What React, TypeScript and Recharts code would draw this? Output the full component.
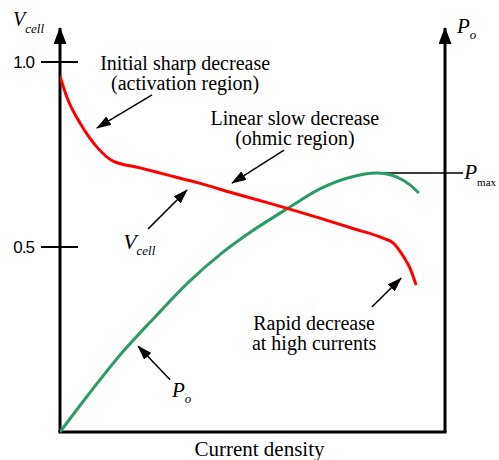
import { Label, Line, LineChart, ReferenceDot, ReferenceLine, XAxis, YAxis } from "recharts";

// polarisation curve (x = current density, normalised to the x-axis length)
const vCellX = [0, 0.018, 0.052, 0.096, 0.138, 0.208, 0.278, 0.364, 0.449, 0.545, 0.675, 0.761, 0.839, 0.865, 0.891, 0.909, 0.925];
const vCellY = [0.962, 0.905, 0.835, 0.77, 0.732, 0.714, 0.695, 0.672, 0.646, 0.618, 0.578, 0.55, 0.524, 0.511, 0.476, 0.443, 0.397];

// power curve
const powerX = [0, 0.073, 0.161, 0.247, 0.332, 0.421, 0.499, 0.597, 0.675, 0.745, 0.823, 0.875, 0.909, 0.932];
const powerY = [0, 0.1, 0.214, 0.311, 0.403, 0.484, 0.543, 0.608, 0.657, 0.686, 0.7, 0.689, 0.668, 0.646];

const vTicks = [0.5, 1.0];
const yMax = 1.092;
const pMax = { x: 0.823, y: 0.7, end: 1.047 };

// annotation arrows: tail -> head, in data units
const arrows = [
  { from: [0.239, 0.911], to: [0.096, 0.822] },
  { from: [0.582, 0.762], to: [0.447, 0.673] },
  { from: [0.229, 0.549], to: [0.33, 0.654] },
  { from: [0.286, 0.141], to: [0.203, 0.232] },
  { from: [0.81, 0.338], to: [0.886, 0.416] },
];

const notes = [
  { x: 0.325, y: 0.978, lines: ["Initial sharp decrease", "(activation region)"] },
  { x: 0.61, y: 0.83, lines: ["Linear slow decrease", "(ohmic region)"] },
  { x: 0.66, y: 0.276, lines: ["Rapid decrease", "at high currents"] },
];

// symbol labels: main letter + subscript
const symbols = [
  { x: -0.122, y: 1.097, main: "V", sub: "cell", size: 20, subSize: 13, dy: 7, italicSub: true },
  { x: 0.164, y: 0.495, main: "V", sub: "cell", size: 22, subSize: 13, dy: 6, italicSub: true },
  { x: 0.291, y: 0.095, main: "P", sub: "o", size: 21, subSize: 13, dy: 6, italicSub: true },
  { x: 1.031, y: 1.078, main: "P", sub: "o", size: 21, subSize: 13, dy: 6, italicSub: true },
  { x: 1.05, y: 0.684, main: "P", sub: "max", size: 21, subSize: 11, dy: 7, italicSub: false },
];

const vData = vCellX.map((x, i) => ({ x, v: vCellY[i] }));
const pData = powerX.map((x, i) => ({ x, p: powerY[i] }));

const serif = "'Liberation Serif', 'Times New Roman', serif";
const red = "#ff0000";
const green = "#2e9a66";

function VTick({ x, y, payload }: any) {
  return (
    <g>
      <line x1={x - 19} x2={x + 18} y1={y} y2={y} stroke="#000" strokeWidth={2} />
      <text x={x - 26} y={y + 6} textAnchor="end" style={{ fontFamily: "'Liberation Sans', Arial, sans-serif", fontSize: 17, letterSpacing: -1 }} fill="#000">
        {payload.value.toFixed(1)}
      </text>
    </g>
  );
}

const arrowLine = (marker: string, width: number) => (p: any) => (
  <line x1={p.x1} y1={p.y1} x2={p.x2} y2={p.y2} stroke="#000" strokeWidth={width} markerEnd={`url(#${marker})`} />
);

export default function App() {
  return (
    <div style={{ position: "absolute", left: 0, top: 0, background: "#fff" }}>
      <LineChart width={499} height={460} margin={{ top: 28, right: 54, bottom: 0, left: 0 }}>
        <defs>
          <marker id="axisHead" viewBox="0 0 17 13" refX={16} refY={6.5} markerWidth={17} markerHeight={13} markerUnits="userSpaceOnUse" orient="auto">
            <path d="M0,0 L17,6.5 L0,13 z" fill="#000" />
          </marker>
          <marker id="noteHead" viewBox="0 0 15 10" refX={14} refY={5} markerWidth={15} markerHeight={10} markerUnits="userSpaceOnUse" orient="auto">
            <path d="M0,0 L15,5 L0,10 z" fill="#000" />
          </marker>
        </defs>
        <XAxis dataKey="x" type="number" domain={[0, 1]} allowDataOverflow tick={false} axisLine={false} tickLine={false} height={28}>
          <Label
            content={({ viewBox }: any) => (
              <text x={viewBox.x + viewBox.width / 2 + 7} y={viewBox.y + 23.5} textAnchor="middle" style={{ fontFamily: serif, fontSize: 21 }} fill="#000">
                Current density
              </text>
            )}
          />
        </XAxis>
        <YAxis yAxisId="v" type="number" domain={[0, yMax]} ticks={vTicks} width={60} axisLine={false} tickLine={false} tickSize={0} tickMargin={0} tick={<VTick />} />
        <YAxis yAxisId="p" orientation="right" type="number" domain={[0, yMax]} hide />

        {/* axes with arrow heads */}
        <ReferenceLine yAxisId="v" segment={[{ x: 0, y: 0 }, { x: 0, y: yMax }]} ifOverflow="visible" shape={arrowLine("axisHead", 3)} />
        <ReferenceLine yAxisId="p" segment={[{ x: 1, y: 0 }, { x: 1, y: yMax }]} ifOverflow="visible" shape={arrowLine("axisHead", 3)} />
        <ReferenceLine
          yAxisId="v"
          segment={[{ x: 0, y: 0 }, { x: 1, y: 0 }]}
          ifOverflow="visible"
          shape={(p: any) => <line x1={p.x1} y1={p.y1} x2={p.x2} y2={p.y2} stroke="#000" strokeWidth={3} strokeLinecap="square" />}
        />

        <ReferenceLine
          yAxisId="p"
          segment={[{ x: pMax.x, y: pMax.y }, { x: pMax.end, y: pMax.y }]}
          ifOverflow="visible"
          shape={(p: any) => <line x1={p.x1} y1={p.y1} x2={p.x2} y2={p.y2} stroke="#000" strokeWidth={1.5} />}
        />

        <Line yAxisId="p" data={pData} dataKey="p" type="monotone" stroke={green} strokeWidth={3} dot={false} activeDot={false} isAnimationActive={false} />
        <Line yAxisId="v" data={vData} dataKey="v" type="monotone" stroke={red} strokeWidth={3} dot={false} activeDot={false} isAnimationActive={false} />

        {arrows.map((a, i) => (
          <ReferenceLine
            key={`a${i}`}
            yAxisId="v"
            segment={[{ x: a.from[0], y: a.from[1] }, { x: a.to[0], y: a.to[1] }]}
            ifOverflow="visible"
            shape={arrowLine("noteHead", 1.5)}
          />
        ))}

        {notes.map((n, i) => (
          <ReferenceDot
            key={`n${i}`}
            yAxisId="v"
            x={n.x}
            y={n.y}
            r={0}
            ifOverflow="visible"
            shape={(p: any) => (
              <text x={p.cx} y={p.cy} textAnchor="middle" style={{ fontFamily: serif, fontSize: 20 }} fill="#000">
                {n.lines.map((l, j) => (
                  <tspan key={j} x={p.cx} dy={j === 0 ? 0 : 20}>
                    {l}
                  </tspan>
                ))}
              </text>
            )}
          />
        ))}

        {symbols.map((s, i) => (
          <ReferenceDot
            key={`s${i}`}
            yAxisId="v"
            x={s.x}
            y={s.y}
            r={0}
            ifOverflow="visible"
            shape={(p: any) => (
              <text x={p.cx} y={p.cy} style={{ fontFamily: serif, fontSize: s.size, fontStyle: "italic" }} fill="#000">
                {s.main}
                <tspan dy={s.dy} style={{ fontSize: s.subSize, fontStyle: s.italicSub ? "italic" : "normal" }}>
                  {s.sub}
                </tspan>
              </text>
            )}
          />
        ))}
      </LineChart>
    </div>
  );
}
